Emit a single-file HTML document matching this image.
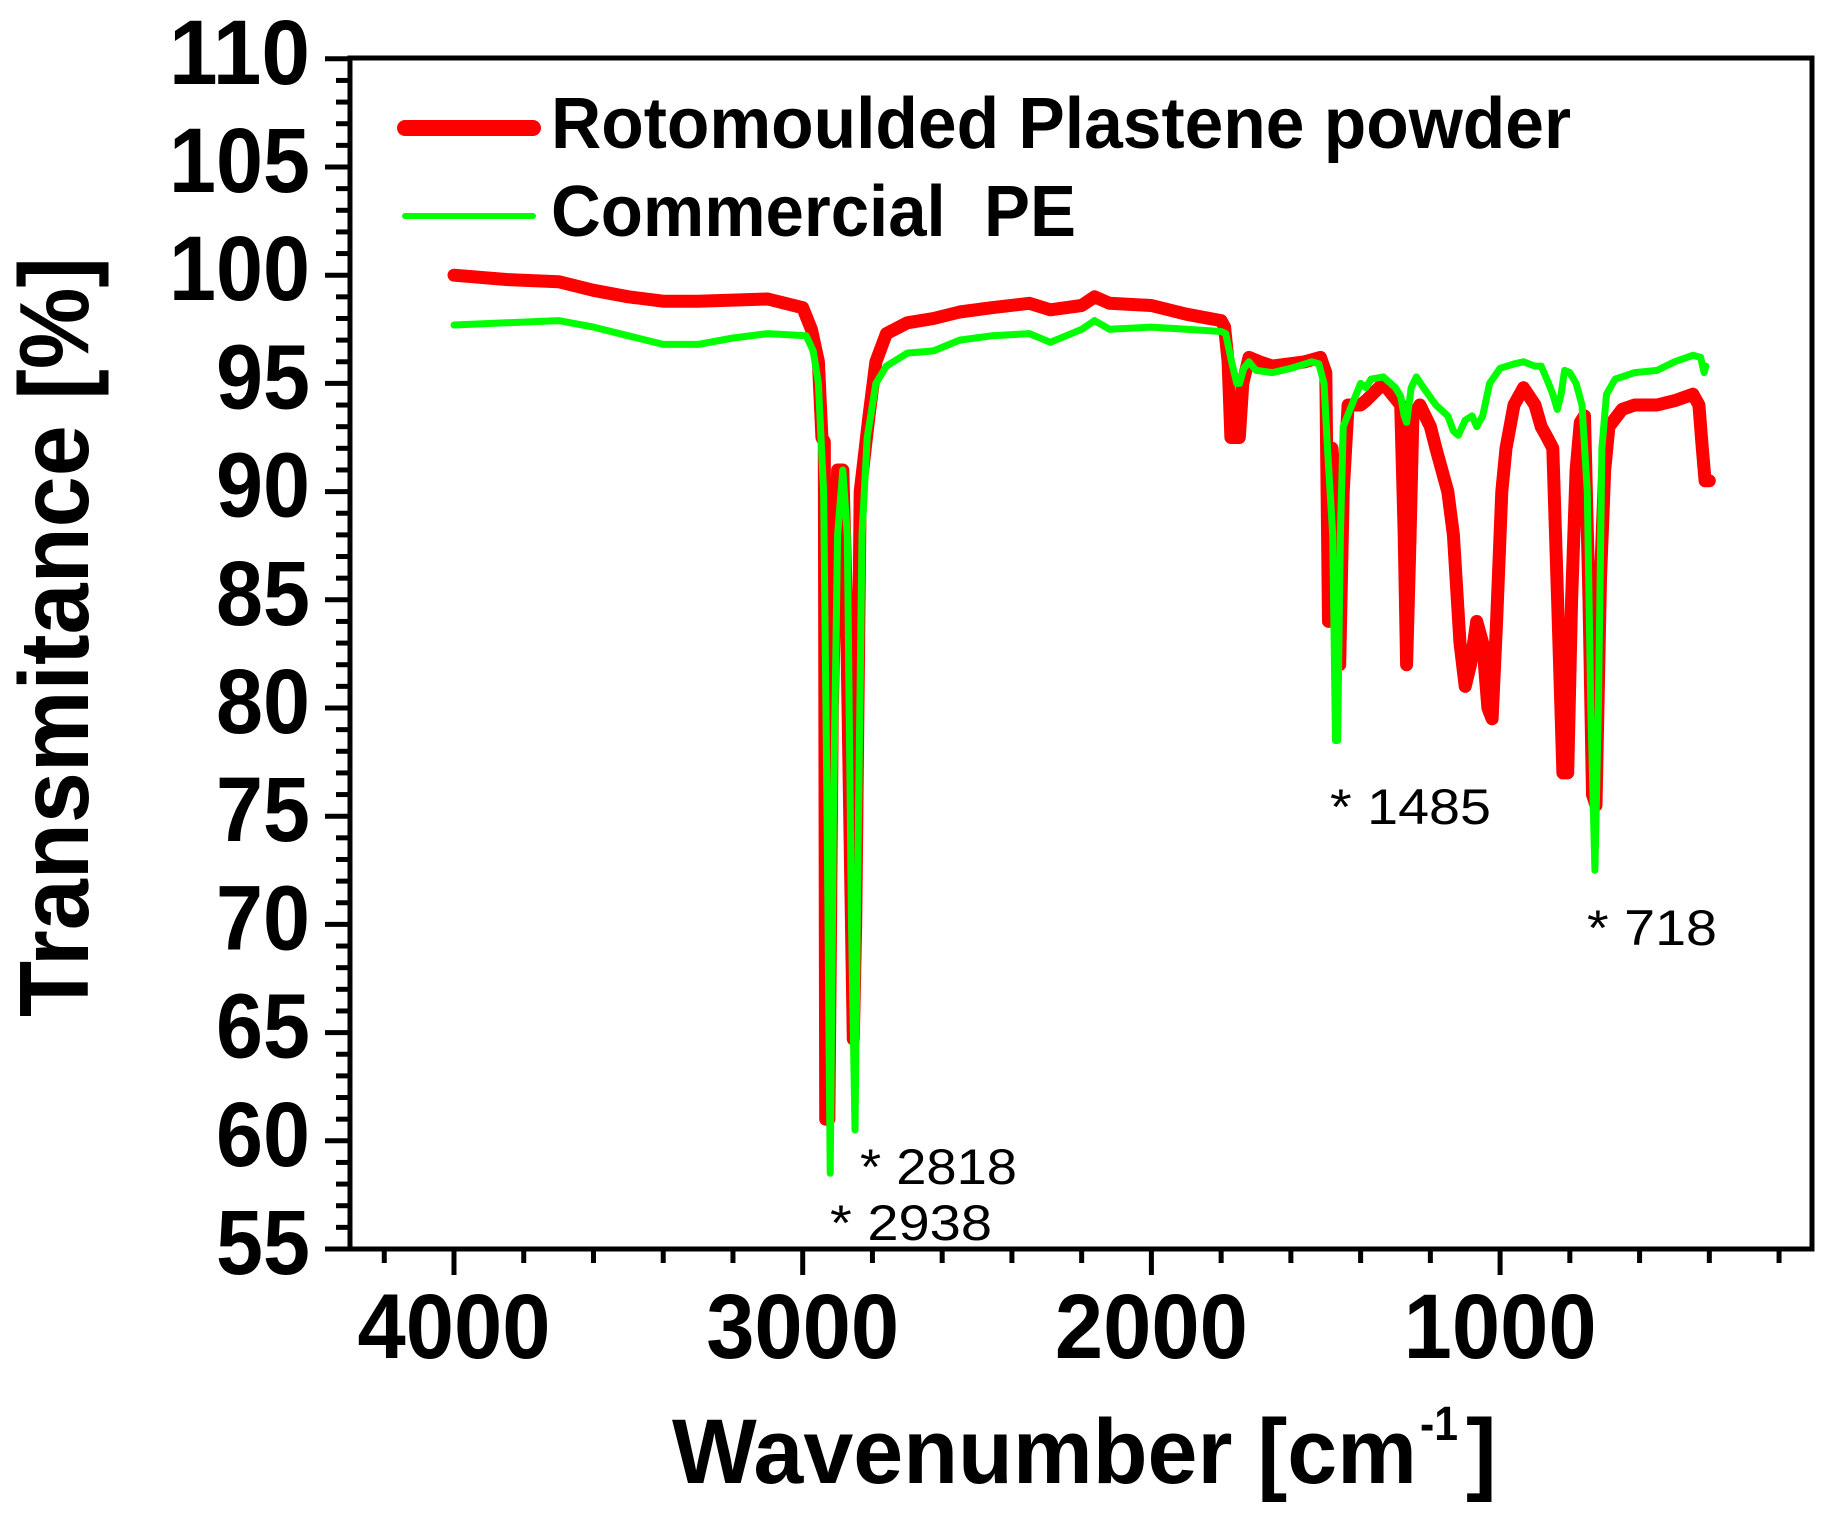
<!DOCTYPE html>
<html><head><meta charset="utf-8"><style>
html,body{margin:0;padding:0;background:#fff;}
svg{display:block;}
text{font-family:"Liberation Sans",Arial,sans-serif;}
</style></head><body>
<svg id="s" width="1831" height="1516" viewBox="0 0 1831 1516" xmlns="http://www.w3.org/2000/svg">
<rect width="1831" height="1516" fill="#fff"/>
<g id="ticks" stroke="#000" stroke-width="5"></g>
<path id="red" fill="none" stroke="#ff0000" stroke-width="13" stroke-linejoin="round" stroke-linecap="round"/>
<path id="green" fill="none" stroke="#00ff00" stroke-width="7" stroke-linejoin="round" stroke-linecap="round"/>
<rect x="350" y="58" width="1462" height="1191" fill="none" stroke="#000" stroke-width="5"/>
<g id="labels" font-weight="bold" font-size="92"></g>
<line x1="405" y1="128" x2="533" y2="128" stroke="#ff0000" stroke-width="16" stroke-linecap="round"/>
<line x1="405" y1="216" x2="533" y2="216" stroke="#00ff00" stroke-width="6" stroke-linecap="round"/>
<text x="551" y="148" font-size="72" font-weight="bold" textLength="1020" lengthAdjust="spacingAndGlyphs">Rotomoulded Plastene powder</text>
<text x="551" y="236" font-size="72" font-weight="bold" textLength="525" lengthAdjust="spacingAndGlyphs" xml:space="preserve">Commercial  PE</text>
<text transform="translate(88,1017) rotate(-90)" font-size="98" font-weight="bold" textLength="760" lengthAdjust="spacingAndGlyphs">Transmitance [%]</text>
<text x="672" y="1483" font-size="92" font-weight="bold" textLength="745" lengthAdjust="spacingAndGlyphs">Wavenumber [cm</text>
<text x="1420" y="1440" font-size="48" font-weight="bold" textLength="38" lengthAdjust="spacingAndGlyphs">-1</text>
<text x="1466" y="1483" font-size="92" font-weight="bold">]</text>
<g font-size="50">
<text x="860" y="1184" textLength="157" lengthAdjust="spacingAndGlyphs">* 2818</text>
<text x="830" y="1240" textLength="162" lengthAdjust="spacingAndGlyphs">* 2938</text>
<text x="1330" y="824" textLength="161" lengthAdjust="spacingAndGlyphs">* 1485</text>
<text x="1587" y="945" textLength="130" lengthAdjust="spacingAndGlyphs">* 718</text>
</g>
</svg>
<script>
var X=function(w){return 454+(4000-w)*0.3487;};
var Y=function(t){return 1249-(t-55)*21.64;};
var NS="http://www.w3.org/2000/svg";
var tg=document.getElementById('ticks');
function ln(x1,y1,x2,y2){var l=document.createElementNS(NS,'line');l.setAttribute('x1',x1);l.setAttribute('y1',y1);l.setAttribute('x2',x2);l.setAttribute('y2',y2);tg.appendChild(l);}
for(var w=4200;w>=200;w-=200){var x=X(w);ln(x,1249,x,(w%1000==0)?1275:1263);}
for(var t=55;t<=110;t++){var y=Y(t);ln(350,y,(t%5==0)?325:336,y);}
var lg=document.getElementById('labels');
function tx(s,x,y,anchor,len){var e=document.createElementNS(NS,'text');e.setAttribute('x',x);e.setAttribute('y',y);e.setAttribute('text-anchor',anchor);e.setAttribute('textLength',len);e.setAttribute('lengthAdjust','spacingAndGlyphs');e.textContent=s;lg.appendChild(e);}
for(var t=55;t<=110;t+=5){var s=String(t);tx(s,310,Y(t)+25,'end',s.length==3?141:94);}
[4000,3000,2000,1000].forEach(function(w){tx(String(w),X(w),1358,'middle',193);});
var red=[[4000,100],[3850,99.8],[3700,99.7],[3600,99.3],[3500,99],[3400,98.8],[3300,98.8],[3100,98.9],[3000,98.5],[2975,97.5],[2955,96],[2945,92.5],[2938,92.3],[2934,61],[2925,61],[2915,80],[2900,91],[2885,91],[2875,85],[2855,64.7],[2848,70],[2835,90],[2810,93.5],[2790,96],[2760,97.3],[2700,97.8],[2625,98],[2550,98.3],[2458,98.5],[2350,98.7],[2290,98.4],[2200,98.6],[2163,99],[2120,98.7],[2000,98.6],[1900,98.2],[1800,97.9],[1790,97.6],[1780,96],[1772,92.5],[1748,92.5],[1738,95],[1720,96.2],[1690,96],[1653,95.8],[1560,96],[1515,96.2],[1500,95.5],[1492,84],[1482,92],[1470,88],[1460,82],[1450,90],[1436,94],[1400,94],[1385,94.2],[1335,95],[1300,94.3],[1285,94],[1275,88],[1268,82],[1258,88],[1250,93.5],[1230,94],[1200,93],[1184,92],[1150,90],[1134,88],[1115,83],[1100,81],[1085,82],[1067,84],[1050,83],[1035,80],[1023,79.5],[1010,84],[995,90],[983,92],[960,94],[933,94.8],[900,94],[882,93],[865,92.5],[849,92],[835,85],[820,77],[806,77],[795,85],[782,91],[770,93.2],[758,93.5],[745,85],[735,76],[725,75.5],[712,86],[700,91],[688,93],[650,93.8],[614,94],[550,94],[500,94.2],[447,94.5],[430,94],[420,92],[412,90.5],[400,90.5]];
var grn=[[4000,97.7],[3850,97.8],[3700,97.9],[3600,97.6],[3500,97.2],[3400,96.8],[3300,96.8],[3200,97.1],[3100,97.3],[2990,97.2],[2970,96.5],[2955,95],[2940,90],[2930,75],[2921,58.5],[2912,75],[2900,88],[2885,91],[2872,88],[2860,70],[2850,60.5],[2840,75],[2830,88],[2815,92.5],[2790,95],[2760,95.8],[2700,96.4],[2625,96.5],[2550,97],[2458,97.2],[2350,97.3],[2290,96.9],[2200,97.5],[2163,97.9],[2120,97.5],[2000,97.6],[1900,97.5],[1800,97.4],[1787,97.3],[1770,96],[1755,95],[1747,95],[1735,95.7],[1720,96],[1700,95.6],[1653,95.5],[1600,95.7],[1540,96],[1520,95.9],[1505,95],[1495,92],[1480,88],[1472,78.5],[1466,78.5],[1458,88],[1450,93],[1420,94.2],[1400,95],[1385,94.8],[1370,95.2],[1335,95.3],[1300,94.8],[1285,94.4],[1275,93.5],[1268,93.2],[1255,94.8],[1240,95.3],[1220,94.8],[1184,94],[1150,93.5],[1134,92.8],[1120,92.6],[1100,93.3],[1080,93.5],[1067,93],[1050,93.5],[1030,95],[1000,95.7],[960,95.9],[933,96],[900,95.8],[882,95.8],[866,95.2],[849,94.5],[836,93.8],[825,94.5],[815,95.6],[800,95.5],[782,95],[765,94],[750,90],[740,80],[728,72.5],[718,80],[708,92],[695,94.5],[670,95.2],[614,95.5],[550,95.6],[500,96],[447,96.3],[425,96.2],[415,95.5],[410,95.8]];
function path(d){return d.map(function(p,i){return (i?'L':'M')+X(p[0]).toFixed(1)+' '+Y(p[1]).toFixed(1);}).join('');}
document.getElementById('red').setAttribute('d',path(red));
document.getElementById('green').setAttribute('d',path(grn));
</script>
</body></html>
